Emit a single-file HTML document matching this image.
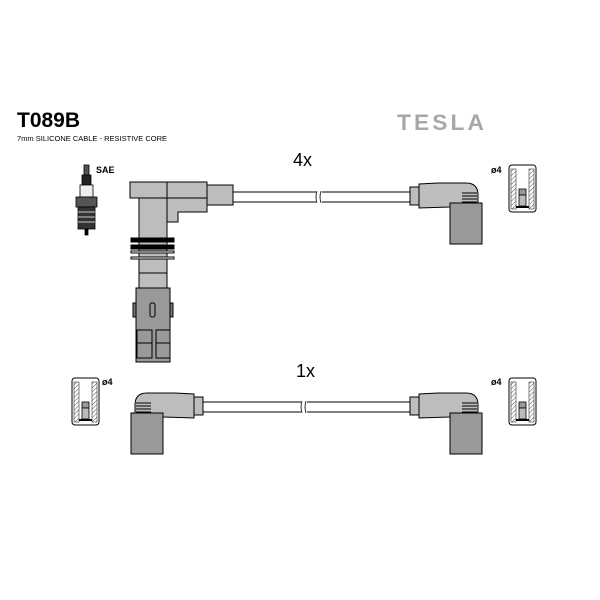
<!DOCTYPE html>
<html><head><style>body{margin:0;background:#fff}svg{display:block}</style></head><body>
<svg width="600" height="600" viewBox="0 0 600 600" xmlns="http://www.w3.org/2000/svg" font-family="Liberation Sans, sans-serif">
<defs>
<pattern id="h" width="3" height="3" patternUnits="userSpaceOnUse" patternTransform="rotate(45)"><rect width="3" height="3" fill="#fff"/><line x1="0" y1="0" x2="0" y2="3" stroke="#555" stroke-width="1"/></pattern>
<g id="term">
<rect x="0" y="0" width="27" height="47" rx="3" fill="#fff" stroke="#000"/>
<rect x="2" y="4" width="5" height="40" fill="url(#h)" stroke="#333" stroke-width="0.6"/>
<rect x="20" y="4" width="5" height="40" fill="url(#h)" stroke="#333" stroke-width="0.6"/>
<rect x="10" y="24" width="7" height="6" fill="#999" stroke="#000" stroke-width="0.8"/>
<rect x="10" y="30" width="7" height="11" fill="#bbb" stroke="#000" stroke-width="0.8"/>
<line x1="7" y1="42" x2="20" y2="42" stroke="#000" stroke-width="2"/>
</g>
<g id="rplug">
<rect x="0" y="0" width="9" height="18" fill="#bdbdbd" stroke="#000"/>
<path d="M9 -3 L28 -4 L56 -4 Q68 -4 68 8 L68 16 L40 16 L40 20 L9 21 Z" fill="#bdbdbd" stroke="#000"/>
<rect x="40" y="16" width="32" height="41" fill="#999" stroke="#000"/>
<g stroke="#000" stroke-width="1"><line x1="52" y1="6" x2="67" y2="6"/><line x1="52" y1="9" x2="67" y2="9"/><line x1="52" y1="12" x2="67" y2="12"/><line x1="52" y1="15" x2="67" y2="15"/></g>
</g>
</defs>
<text x="17" y="127" font-size="21" font-weight="bold">T089B</text>
<text x="17" y="141" font-size="7.5">7mm SILICONE CABLE - RESISTIVE CORE</text>
<text x="397" y="130" font-size="22" font-weight="bold" fill="#a8a8a8" letter-spacing="3" textLength="90" lengthAdjust="spacingAndGlyphs">TESLA</text>
<text x="293" y="166" font-size="18">4x</text>
<text x="296" y="377" font-size="18">1x</text>
<text x="96" y="173" font-size="9" font-weight="bold">SAE</text>
<text x="491" y="173" font-size="9" font-weight="bold">ø4</text>
<text x="102" y="385" font-size="9" font-weight="bold">ø4</text>
<text x="491" y="385" font-size="9" font-weight="bold">ø4</text>
<!-- spark plug -->
<g stroke="#000" stroke-width="0.8">
<rect x="84" y="165" width="5" height="10" fill="#555"/>
<rect x="82" y="175" width="9" height="10" fill="#222"/>
<rect x="80" y="185" width="13" height="12" fill="#eee"/>
<rect x="76" y="197" width="21" height="10" fill="#555"/>
<rect x="78" y="207" width="17" height="22" fill="#333"/>
<line x1="78" y1="212" x2="95" y2="212" stroke="#fff"/><line x1="78" y1="217" x2="95" y2="217" stroke="#fff"/><line x1="78" y1="222" x2="95" y2="222" stroke="#fff"/>
<rect x="85" y="229" width="3" height="6" fill="#000"/>
</g>
<!-- top cable -->
<line x1="232" y1="192" x2="316" y2="192" stroke="#000"/><line x1="232" y1="202" x2="316" y2="202" stroke="#000"/>
<line x1="322" y1="192" x2="410" y2="192" stroke="#000"/><line x1="322" y1="202" x2="410" y2="202" stroke="#000"/>
<path d="M317 191 q-2 6 0 12 M321 191 q-2 6 0 12" fill="none" stroke="#000" stroke-width="0.8"/>
<!-- top-left plug -->
<g stroke="#000">
<rect x="207" y="185" width="26" height="20" fill="#bdbdbd"/>
<path d="M167 198 L167 222 L178 222 L178 212 L207 212 L207 182 L167 182 Z" fill="#bdbdbd"/>
<rect x="130" y="182" width="77" height="16" fill="#bdbdbd"/>
<line x1="167" y1="182" x2="167" y2="198"/>
<rect x="139" y="198" width="28" height="75" fill="#bdbdbd"/>
<rect x="131" y="238" width="43" height="4" fill="#000"/>
<rect x="131" y="245" width="43" height="4" fill="#000"/>
<rect x="131" y="251" width="43" height="2" fill="#fff"/>
<rect x="131" y="257" width="43" height="2" fill="#fff"/>
<rect x="139" y="273" width="28" height="15" fill="#bdbdbd"/>
<rect x="136" y="288" width="34" height="74" fill="#999"/>
<rect x="133" y="303" width="3" height="14" fill="#777"/>
<rect x="170" y="303" width="3" height="14" fill="#777"/>
<rect x="150" y="303" width="5" height="14" rx="2" fill="#999"/>
<rect x="137" y="330" width="15" height="28" fill="#999"/>
<rect x="156" y="330" width="14" height="28" fill="#999"/>
<line x1="137" y1="343" x2="152" y2="343"/><line x1="156" y1="343" x2="170" y2="343"/>
</g>
<use href="#rplug" x="410" y="187"/>
<use href="#term" x="509" y="165"/>
<!-- bottom cable -->
<line x1="203" y1="402" x2="301" y2="402" stroke="#000"/><line x1="203" y1="412" x2="301" y2="412" stroke="#000"/>
<line x1="307" y1="402" x2="410" y2="402" stroke="#000"/><line x1="307" y1="412" x2="410" y2="412" stroke="#000"/>
<path d="M302 401 q-2 6 0 12 M306 401 q-2 6 0 12" fill="none" stroke="#000" stroke-width="0.8"/>
<use href="#rplug" transform="translate(203,397) scale(-1,1)"/>
<use href="#rplug" x="410" y="397"/>
<use href="#term" x="72" y="378"/>
<use href="#term" x="509" y="378"/>
</svg>
</body></html>
